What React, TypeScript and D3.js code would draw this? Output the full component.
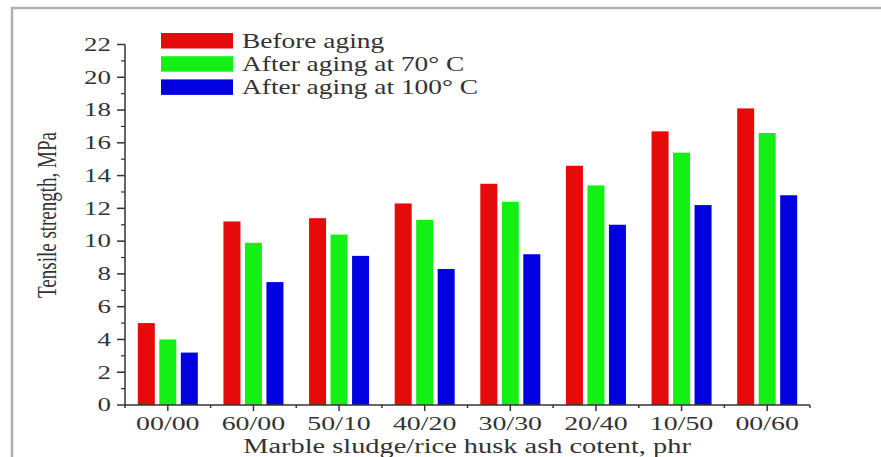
import React, { useRef, useEffect } from "react";
import * as d3 from "d3";

const categories = ["00/00", "60/00", "50/10", "40/20", "30/30", "20/40", "10/50", "00/60"];
const seriesNames = ["Before aging", "After aging at 70\u00b0 C", "After aging at 100\u00b0 C"];
const beforeAging = [5.0, 11.2, 11.4, 12.3, 13.5, 14.6, 16.7, 18.1];
const aged70 = [4.0, 9.9, 10.4, 11.3, 12.4, 13.4, 15.4, 16.6];
const aged100 = [3.2, 7.5, 9.1, 8.3, 9.2, 11.0, 12.2, 12.8];
const colors = ["#e60a0a", "#14f014", "#0000e0"];
const yTicks = [0, 2, 4, 6, 8, 10, 12, 14, 16, 18, 20, 22];

export default function App() {
  const ref = useRef<SVGSVGElement>(null);

  useEffect(() => {
    document.documentElement.style.overflow = "hidden";
    const svg = d3.select(ref.current);
    svg.selectAll("*").remove();

    const width = 881;
    const height = 457;
    const left = 125, right = 810, top = 44.5, bottom = 405;
    const font = "'Liberation Serif', 'Times New Roman', serif";
    const textColor = "#333";

    // the original picture is stretched sideways, so text gets a horizontal scale
    const label = (parent: any, x: number, y: number, sx: number, size: number, anchor: string, txt: string) =>
      parent.append("g")
        .attr("transform", `translate(${x},${y}) scale(${sx},1)`)
        .append("text")
        .attr("text-anchor", anchor)
        .attr("dy", "0.35em")
        .attr("font-family", font)
        .attr("font-size", size)
        .attr("fill", textColor)
        .text(txt);

    // frame
    svg.append("path")
      .attr("d", `M12,${height} L12,8 L${width},8`)
      .attr("fill", "none")
      .attr("stroke", "#b0b0b0")
      .attr("stroke-width", 2.5);

    const x = d3.scaleBand().domain(categories).range([left, right]).padding(0);
    const y = d3.scaleLinear().domain([0, 22]).range([bottom, top]);

    const series = [beforeAging, aged70, aged100];
    const barW = 17;
    const gap = 4.5;

    series.forEach((vals, si) => {
      svg.append("g")
        .selectAll("rect")
        .data(vals)
        .join("rect")
        .attr("x", (d, i) => x(categories[i])! + x.bandwidth() / 2 + (si - 1) * (barW + gap) - barW / 2)
        .attr("y", (d) => y(d))
        .attr("width", barW)
        .attr("height", (d) => y(0) - y(d))
        .attr("fill", colors[si]);
    });

    // y axis
    const gy = svg.append("g").attr("transform", `translate(${left},0)`);
    gy.append("line").attr("y1", y(22)).attr("y2", y(0)).attr("stroke", textColor).attr("stroke-width", 1.5);
    gy.selectAll("line.minor")
      .data(d3.range(1, 22, 2))
      .join("line")
      .attr("class", "minor")
      .attr("x1", -4).attr("x2", 0)
      .attr("y1", (d) => y(d)).attr("y2", (d) => y(d))
      .attr("stroke", textColor).attr("stroke-width", 1.2);
    gy.selectAll("line.major")
      .data(yTicks)
      .join("line")
      .attr("class", "major")
      .attr("x1", -8).attr("x2", 0)
      .attr("y1", (d) => y(d)).attr("y2", (d) => y(d))
      .attr("stroke", textColor).attr("stroke-width", 1.5);
    yTicks.forEach((t) => label(gy, -14, y(t), 1.5, 18, "end", String(t)));

    // x axis
    const gx = svg.append("g").attr("transform", `translate(0,${bottom})`);
    gx.append("line").attr("x1", left).attr("x2", right).attr("stroke", textColor).attr("stroke-width", 1.5);
    gx.selectAll("line.major")
      .data(categories)
      .join("line")
      .attr("class", "major")
      .attr("x1", (d) => x(d)! + x.bandwidth() / 2)
      .attr("x2", (d) => x(d)! + x.bandwidth() / 2)
      .attr("y1", 0).attr("y2", 6)
      .attr("stroke", textColor).attr("stroke-width", 1.5);
    gx.selectAll("line.minor")
      .data(d3.range(categories.length + 1))
      .join("line")
      .attr("class", "minor")
      .attr("x1", (i) => left + i * x.step())
      .attr("x2", (i) => left + i * x.step())
      .attr("y1", 0).attr("y2", 3)
      .attr("stroke", textColor).attr("stroke-width", 1.5);
    categories.forEach((c) => label(gx, x(c)! + x.bandwidth() / 2, 19, 1.55, 18, "middle", c));

    label(svg, 467, 446, 1.42, 20, "middle", "Marble sludge/rice husk ash cotent, phr");

    svg.append("g")
      .attr("transform", "translate(47,215) scale(1.42,1) rotate(-90)")
      .append("text")
      .attr("text-anchor", "middle")
      .attr("dy", "0.35em")
      .attr("font-family", font)
      .attr("font-size", 19)
      .attr("fill", textColor)
      .text("Tensile strength, MPa");

    // legend
    const lg = svg.append("g").attr("transform", "translate(161,33)");
    seriesNames.forEach((name, i) => {
      lg.append("rect")
        .attr("x", 0).attr("y", i * 23.2)
        .attr("width", 72).attr("height", 15.5)
        .attr("fill", colors[i]);
      label(lg, 81, i * 23.2 + 7.5, 1.37, 20, "start", name);
    });
  }, []);

  return (
    <svg
      ref={ref}
      width={881}
      height={457}
      style={{ position: "absolute", left: 0, top: 0, display: "block", background: "#fff" }}
    />
  );
}
